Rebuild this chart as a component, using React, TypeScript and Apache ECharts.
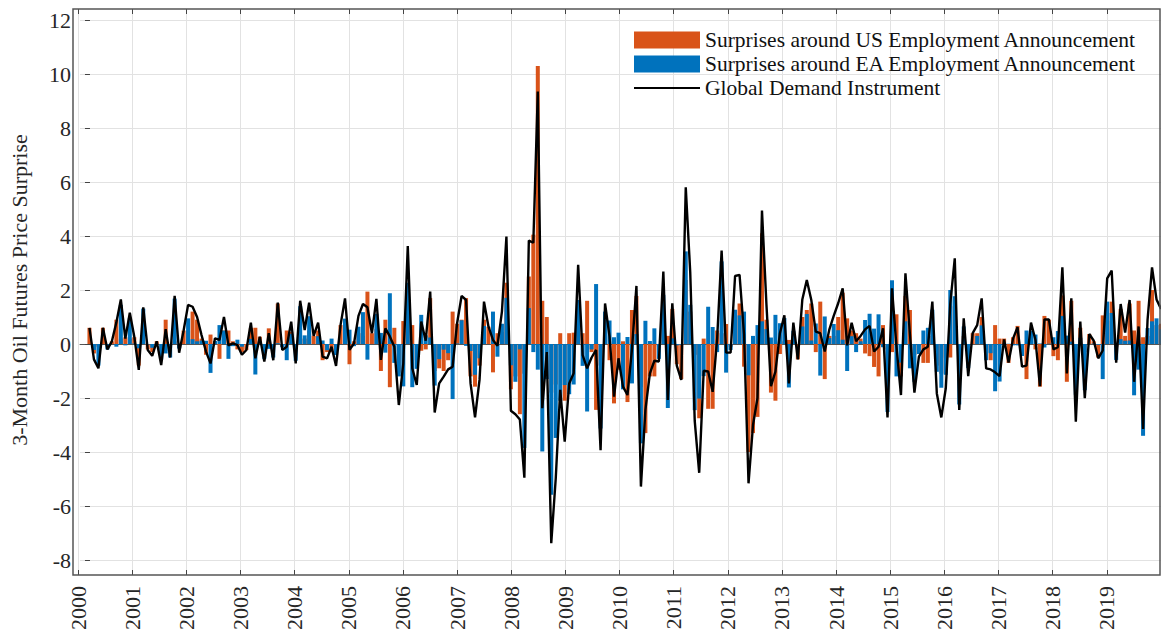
import React, { useEffect, useRef } from 'react';
import * as echarts from 'echarts';

const yearLabels = [
  '2000', '2001', '2002', '2003', '2004', '2005', '2006', '2007', '2008', '2009',
  '2010', '2011', '2012', '2013', '2014', '2015', '2016', '2017', '2018', '2019',
];

const seriesNames = [
  'Surprises around US Employment Announcement',
  'Surprises around EA Employment Announcement',
  'Global Demand Instrument',
];

// monthly, Jan 2000 .. Dec 2019
const usSurprise = [
  0.6, -0.35, -0.1, 0.6, 0, 0.1, 0.9, 0.2, 0.25, 0.2, 0.25, -0.8,
  0.05, -0.2, -0.3, 0.1, -0.2, 0.9, 0, 0.1, -0.15, 0.5, 0.5, 1.2,
  0.9, 0.2, -0.4, 0.35, 0.1, -0.55, 0.5, 0.5, 0.1, -0.2, -0.3, -0.22,
  0.6, 0.6, 0.27, -0.1, 0.58, -0.1, 1.5, -0.1, 0.5, 0.45, -0.1, 0.2,
  0.2, 0.5, 0.3, 0.5, -0.6, -0.3, -0.3, -0.4, 0.7, 0.75, -0.75, 0.1,
  0.4, 0.3, 1.94, 0.4, 0.55, -1.0, 0.9, -1.6, 0.6, -1.06, 0.85, 1.36,
  0.7, -0.6, -0.25, -0.2, 1.7, -1.0, -0.9, -1.0, -0.6, 1.2, 0.75, 0.9,
  1.7, -1.2, -1.58, -0.8, 0.9, 0.64, -1.05, 0.4, 0.45, 2.27, -1.68, -1.2,
  -2.6, -1.1, 2.5, 4.05, 10.3, 1.6, 1.0, -1.8, -1.5, 0.4, -2.1, 0.4,
  0.42, 1.3, 0.4, 1.6, -0.3, -2.44, -0.8, 0.3, -0.6, -2.2, -0.95, 0.1,
  -2.15, 1.26, 1.78, -1.6, -3.3, -1.2, -1.2, -0.1, 0.86, 0.3, 1.3, -0.75,
  -1.3, 2.37, 1.2, -0.4, -2.75, 0.2, -2.4, -2.4, 0.5, 0.4, 0.74, -0.1,
  1.25, 1.5, -0.84, -4.0, -3.3, -2.7, 4.1, 0.9, -1.8, -2.1, -0.37, 0.1,
  0.15, 0.3, -0.57, 1.0, 1.26, 1.5, -0.3, 1.57, -1.3, 0.3, 0.3, 1.0,
  1.9, 0.95, 0.5, 0.4, 0.2, -0.35, -0.45, -0.85, -1.2, 0.7, -0.2, -0.3,
  1.1, -1.2, 1.78, 1.26, -0.4, -0.1, -0.7, -0.7, 0.3, -0.8, -1.1, -0.5,
  -0.5, 1.4, -0.2, 0.3, -0.3, 0.4, 0.4, 1.0, -0.3, -0.6, 0.7, 0.2,
  0.2, -0.7, 0.25, 0.67, -0.4, -1.3, 0.3, -0.2, -1.58, 1.04, 0.9, -0.45,
  -0.6, 1.8, -1.4, 1.6, -1.0, 0.6, -0.3, 0.37, 0.1, -0.5, 1.06, 0.86,
  1.57, -0.1, 1.3, 0.3, 1.5, 0.5, 1.6, 0.25, 0.3, 2.0, 0.7, 0.75,
];

const eaSurprise = [
  0, -0.22, -0.8, 0, -0.2, 0, -0.1, 1.45, -0.05, 0.96, 0.02, -0.16,
  1.31, -0.02, -0.14, 0, -0.58, -0.35, -0.5, 1.68, -0.17, 0, 0.95, 0.18,
  0.1, 0.13, 0.12, -1.07, 0.11, 0.7, 0.5, -0.55, -0.08, 0.16, -0.1, 0,
  0.19, -1.13, 0, -0.55, -0.18, -0.5, 0.03, -0.12, -0.6, 0.38, -0.62, 1.4,
  0.32, 1.03, 0, 0.29, 0.13, -0.23, 0.2, -0.41, 0, 0.94, 0.53, -0.08,
  0.64, 1.18, -0.58, 0, 1.12, 0.41, -0.32, 1.88, -0.7, -1.2, -1.57, 2.27,
  -1.6, -0.92, 1.08, 0.32, 0.24, -1.54, -0.56, -0.21, -0.34, -2.04, 0.02, 0.88,
  -0.07, -0.26, -1.14, -0.53, 0.67, 0, 1.2, -0.47, 0.75, 1.71, -0.79, -1.4,
  -0.2, -3.85, 1.33, -0.3, -0.95, -3.98, -1.3, -5.58, -3.48, -2.1, -1.52, -1.86,
  -1.5, 1.63, -0.81, -2.5, -0.2, 2.22, -3.13, 1.2, 0.87, 0.25, 0.42, -1.68,
  0.26, -1.46, 0.37, -3.68, 0.86, 0.11, 0.58, -0.55, 1.82, -2.37, 0.21, -0.05,
  -0.03, 3.43, 1.45, -2.45, -2.02, -1.19, 1.38, 0.63, -0.3, 3.06, -1.06, -0.22,
  1.27, 1.06, 1.2, -1.16, 0.3, 0.7, 0.84, 0.55, 0.24, 1.08, 0.77, 0.96,
  -1.61, 0.49, 0, 0.65, 1.11, 0.13, 0.76, -1.17, 1.02, 0.22, 0.74, 0.51,
  0.16, -1.0, 0.29, -0.3, 0.1, 0.89, 1.12, 0.57, 1.1, -0.12, -2.52, 2.36,
  -1.2, -0.69, 0.84, -0.9, -1.4, -0.37, 0.5, 0.6, 1.27, -1.03, -1.62, -1.14,
  2.0, 1.77, -2.24, 0.65, -0.89, 0, 0.3, 0.69, -0.6, -0.34, -1.75, -1.39,
  -0.03, 0.01, -0.05, -0.05, -0.44, 0.5, 0.49, 0.35, 0.02, -0.13, 0.01, 0.25,
  0.48, 1.04, 0.31, 0.09, -1.88, 0.23, -1.71, 0, 0.02, -0.03, -1.3, 1.57,
  1.15, -0.59, 0.18, 0.12, 0.13, -1.9, -0.95, -3.4, 0.59, 0.84, 0.95, 0.55,
];

const FONT = 'Liberation Serif';
const TEXT = '#262626';
const GRIDC = '#e2e2e2';

export default function App() {
  const ref = useRef<HTMLDivElement>(null);

  useEffect(() => {
    if (!ref.current) return;
    const chart = echarts.init(ref.current, null, { renderer: 'svg' });

    // x position: months since Dec 1999 (Jan 2000 = 1)
    const usData = usSurprise.map((v, i) => [i + 1, v]);
    const eaData = eaSurprise.map((v, i) => [i + 1, v]);
    const gdiData = usSurprise.map((v, i) => [i + 1, Math.round((v + eaSurprise[i]) * 100) / 100]);

    const option: any = {
      animation: false,
      backgroundColor: '#ffffff',
      textStyle: { fontFamily: FONT },
      grid: [
        { left: 73, right: 0, top: 20, height: 540 },
        { left: 78, right: 0, top: 9, height: 566 },
      ],
      xAxis: [
        {
          gridIndex: 0,
          type: 'value',
          min: -1.11,
          max: 240,
          axisLine: { show: true, onZero: true, lineStyle: { color: '#555555', width: 1 } },
          axisTick: { show: false },
          axisLabel: { show: false },
          splitLine: { show: false },
        },
        {
          gridIndex: 1,
          type: 'value',
          min: 0,
          max: 240,
          interval: 12,
          position: 'bottom',
          axisLine: { show: false },
          axisTick: { show: true, inside: true, length: 5, lineStyle: { color: '#444444' } },
          axisLabel: {
            rotate: 90,
            fontSize: 22,
            fontFamily: FONT,
            color: TEXT,
            margin: 11,
            showMaxLabel: false,
            formatter: (v: number) => yearLabels[Math.round(v / 12)] ?? '',
          },
          splitLine: { show: true, lineStyle: { color: GRIDC, width: 1 } },
        },
        {
          gridIndex: 1,
          type: 'value',
          min: 0,
          max: 240,
          interval: 12,
          position: 'top',
          axisLine: { show: false },
          axisTick: { show: true, inside: true, length: 5, lineStyle: { color: '#444444' } },
          axisLabel: { show: false },
          splitLine: { show: false },
        },
      ],
      yAxis: [
        {
          gridIndex: 0,
          type: 'value',
          min: -8,
          max: 12,
          interval: 2,
          axisLine: { show: false },
          axisTick: { show: true, inside: true, length: 5, lineStyle: { color: '#444444' } },
          axisLabel: { fontSize: 22, fontFamily: FONT, color: TEXT, margin: 9 },
          splitLine: { show: true, lineStyle: { color: GRIDC, width: 1 } },
          name: '3-Month Oil Futures Price Surprise',
          nameLocation: 'middle',
          nameRotate: 90,
          nameGap: 50,
          nameTextStyle: { fontSize: 22, fontFamily: FONT, color: TEXT },
        },
        { gridIndex: 1, type: 'value', min: 0, max: 1, show: false },
      ],
      legend: {
        orient: 'vertical',
        left: 634,
        top: 29,
        padding: 0,
        itemWidth: 66,
        itemHeight: 17,
        itemGap: 2,
        selectedMode: false,
        textStyle: { fontSize: 21.5, fontFamily: FONT, color: '#111111', lineHeight: 21 },
        data: [
          { name: seriesNames[0], icon: 'rect' },
          { name: seriesNames[1], icon: 'rect' },
          { name: seriesNames[2], icon: 'path://M0,0h33v1h-33z' },
        ],
      },
      series: [
        {
          name: seriesNames[0],
          type: 'bar',
          xAxisIndex: 0,
          yAxisIndex: 0,
          stack: 'surprise',
          barWidth: 4,
          itemStyle: { color: '#D95319' },
          data: usData,
        },
        {
          name: seriesNames[1],
          type: 'bar',
          xAxisIndex: 0,
          yAxisIndex: 0,
          stack: 'surprise',
          barWidth: 4,
          itemStyle: { color: '#0072BD' },
          data: eaData,
        },
        {
          name: seriesNames[2],
          type: 'line',
          xAxisIndex: 0,
          yAxisIndex: 0,
          symbol: 'none',
          showSymbol: false,
          z: 5,
          lineStyle: { color: '#000000', width: 2.4 },
          itemStyle: { color: '#000000' },
          data: gdiData,
        },
      ],
      graphic: [
        {
          type: 'rect',
          silent: true,
          z: 100,
          shape: { x: 73, y: 9, width: 1087, height: 566 },
          style: { fill: 'none', stroke: '#555555', lineWidth: 1.5 },
        },
      ],
    };

    chart.setOption(option);
    return () => chart.dispose();
  }, []);

  return (
    <div
      ref={ref}
      style={{ position: 'fixed', left: 0, top: 0, width: 1161, height: 637, background: '#fff' }}
    />
  );
}
